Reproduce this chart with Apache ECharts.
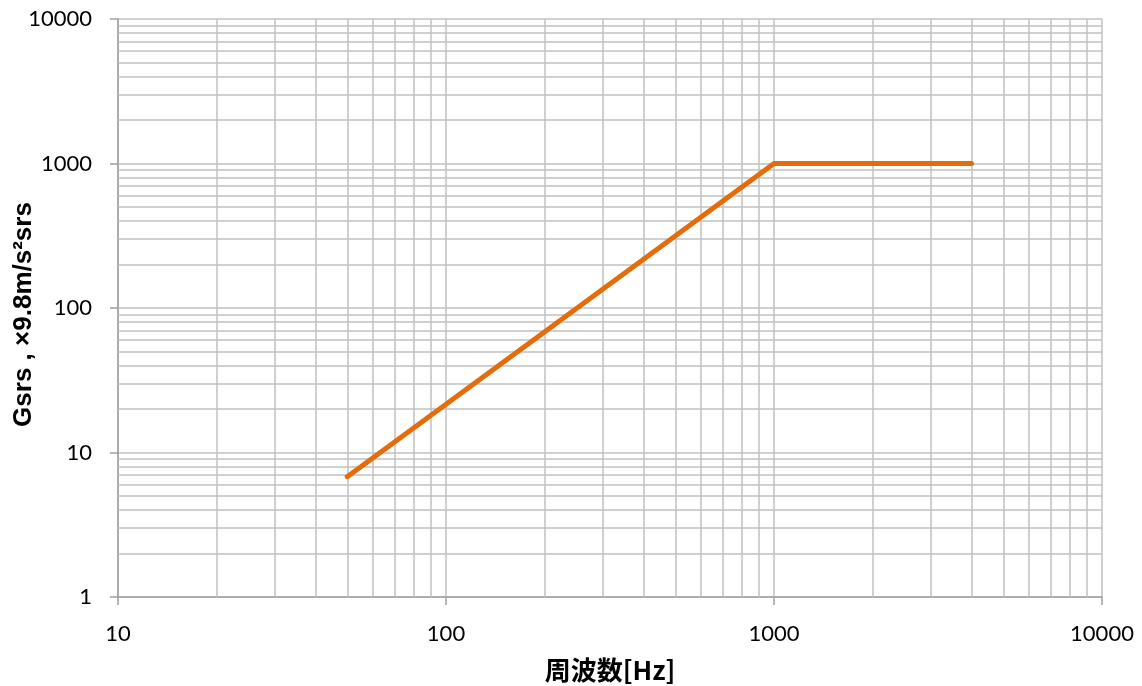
<!DOCTYPE html>
<html>
<head>
<meta charset="utf-8">
<script src="https://cdn.jsdelivr.net/npm/echarts@6/dist/echarts.min.js"></script>
<style>html,body{margin:0;padding:0;background:#fff}#c{width:1142px;height:686px}</style>
</head>
<body>
<div id="c"></div>
<script>
const freqHz = [50, 1000, 4000];
const gsrs = [6.8, 1000, 1000];
const xMinorLines = [20,30,40,50,60,70,80,90,200,300,400,500,600,700,800,900,2000,3000,4000,5000,6000,7000,8000,9000];
const yMinorLines = [2,3,4,5,6,7,8,9,20,30,40,50,60,70,80,90,200,300,400,500,600,700,800,900,2000,3000,4000,5000,6000,7000,8000,9000];
const xTitle = '周波数[Hz]';
const yTitle = 'Gsrs , ×9.8m/s²srs';

const gridColor = '#c0c0c0';
const chart = echarts.init(document.getElementById('c'));
const minorData = xMinorLines.map(v => ({xAxis: v})).concat(yMinorLines.map(v => ({yAxis: v})));
chart.setOption({
  animation: false,
  grid: {left: 118, right: 40, top: 19, bottom: 89, containLabel: false, outerBoundsMode: 'none'},
  xAxis: {
    type: 'log', logBase: 10, min: 10, max: 10000,
    name: xTitle, nameLocation: 'middle', nameGap: 60, nameMoveOverlap: false,
    nameTextStyle: {fontFamily: '"Noto Sans CJK JP", sans-serif', fontWeight: 'bold', fontSize: 26, color: '#000'},
    axisLine: {show: true, lineStyle: {color: '#a0a0a0', width: 1.5}},
    axisTick: {show: true, length: 8, inside: false, lineStyle: {color: '#a0a0a0', width: 1.5}},
    axisLabel: {margin: 26, fontSize: 22, color: '#000', fontFamily: 'Lato, "Open Sans", sans-serif', formatter: v => String(Math.round(v))},
    splitLine: {show: true, lineStyle: {color: gridColor, width: 1.5}}
  },
  yAxis: {
    type: 'log', logBase: 10, min: 1, max: 10000,
    name: yTitle, nameLocation: 'middle', nameGap: 81, nameRotate: 90, nameMoveOverlap: false,
    nameTextStyle: {fontFamily: '"Liberation Sans", Arial, sans-serif', fontWeight: 'bold', fontSize: 26, color: '#000', padding: [0, 13, 0, 0]},
    axisLine: {show: true, lineStyle: {color: '#a0a0a0', width: 1.5}},
    axisTick: {show: true, length: 8, inside: false, lineStyle: {color: '#a0a0a0', width: 1.5}},
    axisLabel: {margin: 26, fontSize: 22, color: '#000', fontFamily: 'Lato, "Open Sans", sans-serif', formatter: v => String(Math.round(v))},
    splitLine: {show: true, lineStyle: {color: gridColor, width: 1.5}}
  },
  series: [
    {
      type: 'line', data: [], z: 1, silent: true,
      markLine: {
        silent: true, symbol: 'none', animation: false,
        label: {show: false},
        lineStyle: {color: gridColor, width: 1.5, type: 'solid'},
        emphasis: {disabled: true},
        data: minorData
      }
    },
    {
      type: 'line', z: 5,
      data: freqHz.map((f, i) => [f, gsrs[i]]),
      showSymbol: false, symbol: 'none',
      lineStyle: {color: '#E46C0A', width: 5, cap: 'round', join: 'round'}
    }
  ]
});
</script>
</body>
</html>
